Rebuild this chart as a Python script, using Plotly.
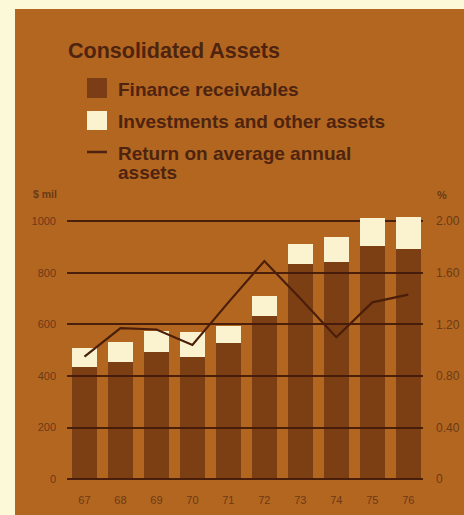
import plotly.graph_objects as go

# Fiscal years shown on the category axis
years = ["67", "68", "69", "70", "71", "72", "73", "74", "75", "76"]

# Consolidated assets, $ millions
finance_receivables = [436, 453, 492, 475, 526, 632, 832, 840, 904, 890]
investments_other = [73, 80, 82, 96, 67, 78, 79, 99, 106, 127]

# Return on average annual assets, %
return_pct = [0.95, 1.17, 1.16, 1.04, 1.37, 1.69, 1.40, 1.10, 1.37, 1.43]

left_ticks = [0, 200, 400, 600, 800, 1000]
right_ticks = [0, 0.4, 0.8, 1.2, 1.6, 2.0]
right_tick_text = ["0", "0.40", "0.80", "1.20", "1.60", "2.00"]

BG = "#b3661f"
CREAM = "#fcf9d8"
PANEL_WHITE = "#fbf3d0"
DARK_BAR = "rgba(70,24,8,0.50)"
SWATCH_DARK = "#7b3d15"
INK = "#4e2410"
GRID = "#4a200c"
TICK = "#6b3a17"
FONT = "Liberation Sans, Arial, Helvetica, sans-serif"

W, H = 464, 515
PL, PR, PT, PB = 67, 423, 208, 482


def fx(px):
    return (px - PL) / (PR - PL)


def fy(py):
    return (PB - py) / (PB - PT)


fig = go.Figure()

fig.add_trace(go.Bar(
    x=years, y=finance_receivables, name="Finance receivables",
    marker=dict(color=DARK_BAR, line=dict(width=0)), width=0.69,
))
fig.add_trace(go.Bar(
    x=years, y=investments_other, name="Investments and other assets",
    marker=dict(color=PANEL_WHITE, line=dict(width=0)), width=0.69,
))
fig.add_trace(go.Scatter(
    x=years, y=return_pct, yaxis="y2", mode="lines",
    name="Return on average annual assets",
    line=dict(color="#4a1e0a", width=2.2),
))

shapes = [
    # cream page margin on the left and top of the brown panel
    dict(type="rect", xref="paper", yref="paper", layer="below",
         x0=fx(0), x1=fx(15), y0=fy(H), y1=fy(0),
         fillcolor=CREAM, line=dict(width=0)),
    dict(type="rect", xref="paper", yref="paper", layer="below",
         x0=fx(0), x1=fx(W), y0=fy(9), y1=fy(0),
         fillcolor=CREAM, line=dict(width=0)),
    # legend swatches
    dict(type="rect", xref="paper", yref="paper",
         x0=fx(87), x1=fx(107), y0=fy(98), y1=fy(78),
         fillcolor=SWATCH_DARK, line=dict(width=0)),
    dict(type="rect", xref="paper", yref="paper",
         x0=fx(87), x1=fx(107), y0=fy(130), y1=fy(111),
         fillcolor=PANEL_WHITE, line=dict(width=0)),
    dict(type="line", xref="paper", yref="paper",
         x0=fx(87), x1=fx(107), y0=fy(152), y1=fy(152),
         line=dict(color=INK, width=2.5)),
]


def label(text, px, py, size, xanchor="left", color=INK, bold=True):
    return dict(
        text=text, xref="paper", yref="paper", x=fx(px), y=fy(py),
        xanchor=xanchor, yanchor="middle", showarrow=False,
        font=dict(family=FONT, size=size, color=color,
                  weight="bold" if bold else "normal"),
    )


annotations = [
    label("Consolidated Assets", 66, 51, 21.5),
    label("Finance receivables", 116, 89, 19),
    label("Investments and other assets", 116, 121, 19),
    label("Return on average annual", 116, 153, 19),
    label("assets", 116, 172, 19),
    label("$ mil", 45, 194, 10.5, xanchor="center", color=TICK),
    label("%", 442, 195, 11, xanchor="center", color=TICK),
]

fig.update_layout(
    width=W, height=H, autosize=False,
    margin=dict(l=PL, r=W - PR, t=PT, b=H - PB, pad=0, autoexpand=False),
    paper_bgcolor=BG, plot_bgcolor="rgba(0,0,0,0)",
    barmode="stack", bargap=0, showlegend=False,
    shapes=shapes, annotations=annotations,
    font=dict(family=FONT, color=TICK),
    xaxis=dict(
        type="category", range=[-0.486, 9.41], automargin=False,
        showgrid=False, zeroline=False, showline=False, ticks="",
        tickfont=dict(family=FONT, size=11, color=TICK),
        ticklabelstandoff=10,
    ),
    yaxis=dict(
        range=[-10.5, 1050.3], tickvals=left_ticks, automargin=False,
        showgrid=True, gridcolor=GRID, gridwidth=2,
        zeroline=False, showline=False, ticks="",
        tickfont=dict(family=FONT, size=11, color=TICK),
        ticklabelstandoff=10,
    ),
    yaxis2=dict(
        overlaying="y", side="right", automargin=False,
        range=[-10.5 / 500, 1050.3 / 500],
        tickvals=right_ticks, ticktext=right_tick_text,
        showgrid=False, zeroline=False, showline=False, ticks="",
        tickfont=dict(family=FONT, size=12, color=TICK),
        ticklabelstandoff=12,
    ),
)

fig.write_html("out.html")
